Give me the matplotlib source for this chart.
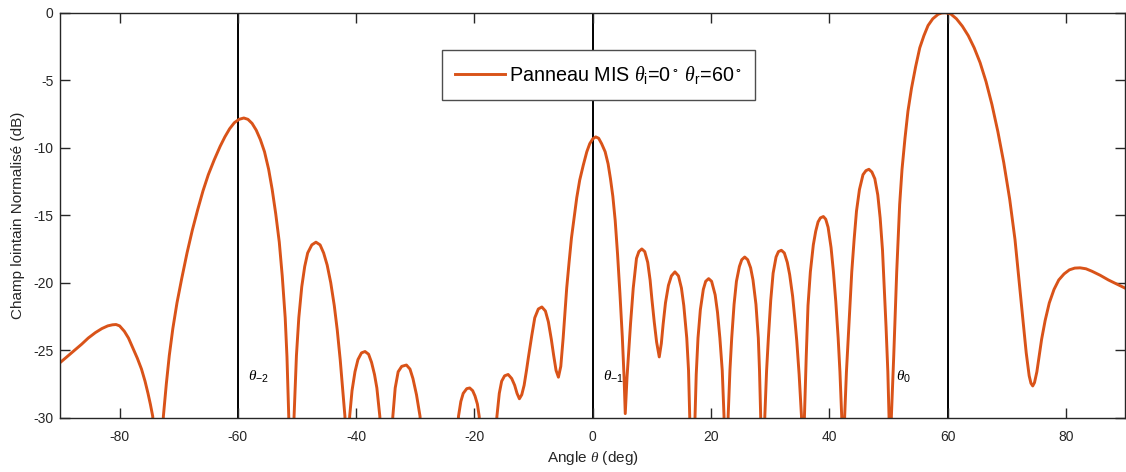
import matplotlib

matplotlib.use("Agg")
import matplotlib.pyplot as plt

# ---------- style (MATLAB-like look) ----------
plt.rcParams.update(
    {
        "font.family": ["Liberation Sans", "DejaVu Sans"],
        "mathtext.fontset": "custom",
        "mathtext.rm": "Liberation Sans",
        "mathtext.it": "Liberation Serif:italic",
        "mathtext.sf": "Liberation Sans",
        "mathtext.fallback": "stix",
        "axes.unicode_minus": False,
        "axes.edgecolor": "#262626",
        "xtick.color": "#262626",
        "ytick.color": "#262626",
        "axes.labelcolor": "#262626",
    }
)

# ---------- data ----------
# values below -30 dB only mark nulls (clipped by the axis)
angle_deg = [
    -90.0, -88.8, -87.6, -86.4, -85.3, -84.1, -83.0, -82.0, -81.2, -80.6,
    -80.0, -79.2, -78.5, -77.8, -77.0, -76.3, -75.7, -75.2, -74.8, -74.4, -73.6,
    -72.6, -72.1, -71.6, -71.0, -70.3, -69.5, -68.6, -67.7, -66.8, -65.9,
    -65.0, -64.0, -63.0, -62.2, -61.4, -60.6, -59.8, -59.0, -58.3, -57.6,
    -56.9, -56.2, -55.5, -54.8, -54.2, -53.6, -53.0, -52.5, -52.0, -51.7,
    -51.4, -51.0,
    -50.5, -50.1, -49.7, -49.2, -48.7, -48.2, -47.5, -46.8, -46.1, -45.5,
    -44.9, -44.3, -43.7, -43.2, -42.7, -42.3, -41.9, -41.5,
    -41.1, -40.7, -40.2, -39.7, -39.1, -38.5, -37.9, -37.4, -36.9, -36.5,
    -36.0, -35.0,
    -33.8, -33.4, -32.9, -32.3, -31.5, -30.9, -30.4, -29.8, -29.2, -28.3,
    -26.0, -23.5,
    -22.7, -22.3, -21.9, -21.3, -20.8, -20.3, -19.9, -19.5, -19.2, -17.7,
    -16.2, -15.8, -15.4, -14.9, -14.3, -13.7, -13.2, -12.8, -12.4, -12.0,
    -11.6, -11.2, -10.9, -10.3, -9.8, -9.2, -8.6, -8.0, -7.5, -7.0,
    -6.6, -6.2, -5.8, -5.4, -5.0, -4.7, -4.4, -4.0, -3.6, -3.1,
    -2.7, -2.2, -1.6, -1.0, -0.5, 0.0, 0.5, 1.0, 1.5, 2.1,
    2.6, 3.0, 3.4, 3.8, 4.2, 4.6, 5.0, 5.3, 5.5, 5.8,
    6.1, 6.4, 6.85, 7.4, 7.8, 8.3, 8.8, 9.3, 9.7, 10.0,
    10.4, 10.8, 11.25, 11.6, 11.9, 12.3, 12.8, 13.3, 13.9, 14.5,
    15.0, 15.4, 15.9, 16.2, 16.4, 16.8,
    17.3, 17.5, 17.8, 18.2, 18.7, 19.1, 19.6, 20.1, 20.7, 21.1,
    21.5, 21.9, 22.2, 22.55,
    22.9, 23.2, 23.5, 23.9, 24.3, 24.8, 25.2, 25.7, 26.2, 26.7,
    27.1, 27.6, 28.0, 28.2, 28.4, 28.75,
    29.1, 29.4, 29.7, 30.1, 30.5, 31.0, 31.4, 31.9, 32.4, 32.9,
    33.3, 33.8, 34.2, 34.5, 34.9, 35.3, 35.55,
    35.8, 36.1, 36.4, 36.8, 37.3, 37.7, 38.1, 38.5, 39.0, 39.4,
    39.8, 40.3, 40.7, 41.1, 41.5, 41.8, 42.1, 42.35,
    42.6, 42.9, 43.2, 43.5, 43.8, 44.2, 44.6, 45.1, 45.7, 46.2,
    46.7, 47.2, 47.7, 48.2, 48.6, 49.0, 49.3, 49.6, 49.9, 50.1, 50.3,
    50.5, 50.9, 51.4, 51.9, 52.3, 52.8, 53.3, 53.9, 54.6, 55.3,
    56.0, 56.7, 57.5, 58.4, 59.0, 59.6, 60.5, 61.5, 62.5, 63.5,
    64.5, 65.5, 66.5, 67.5, 68.5, 69.5, 70.5, 71.4, 72.2, 72.8,
    73.3, 73.8, 74.1, 74.4, 74.7, 75.1, 75.5, 75.9, 76.5, 77.2,
    78.0, 78.8, 79.7, 80.6, 81.5, 82.4, 83.4, 84.4, 85.8, 87.2,
    88.6, 90.0,
]
champ_db = [
    -25.9, -25.45, -25.0, -24.55, -24.1, -23.7, -23.4, -23.2, -23.12, -23.1,
    -23.2, -23.6, -24.1, -24.8, -25.6, -26.4, -27.3, -28.2, -29.0, -29.9, -40.0,
    -29.9, -27.5, -25.4, -23.4, -21.5, -19.7, -17.8, -16.1, -14.6, -13.2,
    -12.0, -10.9, -9.9, -9.2, -8.6, -8.15, -7.9, -7.8, -7.9, -8.2,
    -8.7, -9.4, -10.3, -11.6, -13.1, -14.9, -17.0, -19.5, -22.6, -25.5,
    -29.9, -40.0,
    -29.9, -25.4, -22.6, -20.3, -18.8, -17.8, -17.2, -17.0, -17.2, -17.8,
    -18.7, -20.0, -21.7, -23.5, -25.7, -27.8, -29.9, -40.0,
    -29.9, -28.0, -26.6, -25.7, -25.2, -25.1, -25.3, -25.9, -26.8, -27.8,
    -29.9, -40.0,
    -29.9, -27.8, -26.6, -26.2, -26.1, -26.4, -27.1, -28.3, -29.9, -40.0,
    -33.0, -40.0,
    -29.9, -28.8, -28.2, -27.85, -27.8, -28.0, -28.4, -29.0, -29.9, -40.0,
    -29.9, -28.2, -27.3, -26.9, -26.8, -27.1, -27.6, -28.2, -28.6, -28.3,
    -27.6, -26.5, -25.6, -23.9, -22.6, -21.95, -21.8, -22.1, -22.9, -24.2,
    -25.4, -26.5, -27.0, -26.2, -24.1, -22.3, -20.4, -18.5, -16.7, -15.0,
    -13.7, -12.4, -11.3, -10.3, -9.7, -9.35, -9.2, -9.3, -9.7, -10.3,
    -11.2, -12.3, -13.6, -15.4, -17.9, -20.8, -24.0, -27.0, -29.7, -27.0,
    -25.0, -23.0, -20.4, -18.2, -17.7, -17.5, -17.7, -18.5, -19.8, -21.2,
    -22.9, -24.4, -25.5, -24.5, -23.1, -21.5, -20.2, -19.5, -19.2, -19.5,
    -20.4, -21.7, -24.1, -26.5, -29.9, -40.0,
    -29.9, -26.8, -24.1, -22.0, -20.5, -19.9, -19.7, -19.9, -20.9, -22.2,
    -24.1, -26.5, -29.9, -40.0,
    -29.9, -26.5, -24.1, -21.6, -19.9, -18.8, -18.3, -18.1, -18.3, -18.9,
    -19.8, -21.6, -24.1, -26.5, -29.9, -40.0,
    -29.9, -26.5, -24.1, -21.3, -19.3, -18.1, -17.7, -17.6, -17.8, -18.5,
    -19.4, -21.0, -22.8, -24.3, -26.8, -29.9, -40.0,
    -29.9, -25.5, -21.7, -19.2, -17.2, -16.2, -15.5, -15.2, -15.1, -15.3,
    -15.9, -17.4, -19.2, -21.4, -24.1, -26.6, -29.9, -40.0,
    -29.9, -26.6, -24.1, -21.5, -19.2, -16.8, -14.7, -13.1, -12.0, -11.7,
    -11.6, -11.8, -12.3, -13.5, -15.2, -17.6, -20.4, -23.3, -26.6, -29.9, -40.0,
    -29.9, -25.4, -19.2, -14.2, -11.6, -9.3, -7.3, -5.6, -4.0, -2.6,
    -1.7, -0.95, -0.45, -0.12, -0.02, 0.0, -0.08, -0.45, -1.0, -1.7,
    -2.6, -3.7, -5.1, -6.8, -8.8, -11.1, -13.8, -16.8, -20.3, -23.0,
    -25.2, -26.9, -27.45, -27.65, -27.4, -26.6, -25.4, -24.2, -22.8, -21.5,
    -20.5, -19.8, -19.35, -19.05, -18.92, -18.9, -18.97, -19.15, -19.45, -19.8,
    -20.1, -20.4,
]
assert len(angle_deg) == len(champ_db)

# diffraction-order markers
order_angles = [-60, 0, 60]
order_labels = [r"$\theta_{\mathrm{-2}}$", r"$\theta_{\mathrm{-1}}$", r"$\theta_{\mathrm{0}}$"]
order_label_x = [-58.3, 1.8, 51.3]
order_label_y = -27.0

legend_label = r"Panneau MIS $\theta_{\mathrm{i}}$=0$^\circ$ $\theta_{\mathrm{r}}$=60$^\circ$"

# ---------- figure ----------
fig = plt.figure(figsize=(11.26, 4.72), dpi=100)
ax = fig.add_axes([0.0537, 0.1151, 0.9454, 0.858])

for a in order_angles:
    ax.axvline(a, color="black", linewidth=1.4, zorder=1)

ax.plot(angle_deg, champ_db, color="#D95319", linewidth=2.1,
        label=legend_label, zorder=2)

for lbl, lx in zip(order_labels, order_label_x):
    ax.text(lx, order_label_y, lbl, fontsize=11, ha="left", va="center")

ax.set_xlim(-90, 90)
ax.set_ylim(-30, 0)
ax.set_xticks(range(-80, 81, 20))
ax.set_yticks(range(-30, 1, 5))
ax.tick_params(axis="both", direction="in", length=7, width=1.0,
               top=True, right=True, labelsize=10)
ax.tick_params(axis="x", pad=9)
ax.tick_params(axis="y", pad=5)
for sp in ax.spines.values():
    sp.set_linewidth(1.0)

ax.set_xlabel(r"Angle $\theta$ (deg)", fontsize=11)
ax.set_ylabel("Champ lointain Normalisé (dB)", fontsize=11)
ax.xaxis.set_label_coords(0.5, -0.077)
ax.yaxis.set_label_coords(-0.0333, 0.5)

leg = ax.legend(
    loc="upper left",
    bbox_to_anchor=(0.358, 0.908),
    borderaxespad=0,
    fontsize=14.2,
    fancybox=False,
    framealpha=1,
    edgecolor="#4d4d4d",
    handlelength=2.5,
    handletextpad=0.2,
    borderpad=0.7,
)
leg.get_frame().set_linewidth(1.0)

fig.savefig("out.png", dpi=100)
